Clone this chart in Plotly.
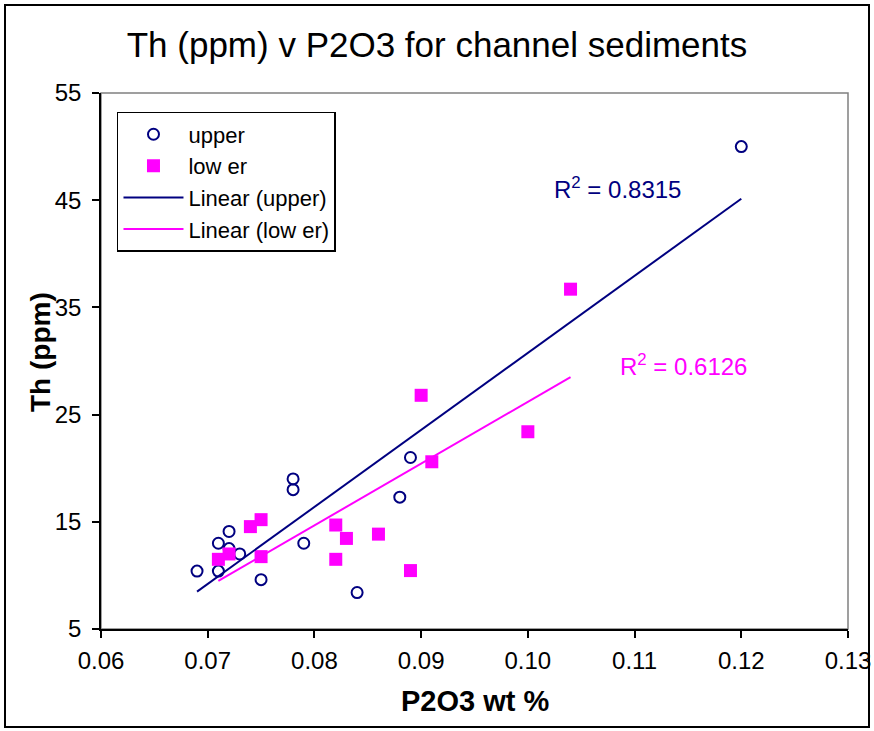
import numpy as np
import plotly.graph_objects as go

# ---- data ----
upper_x = [0.069, 0.071, 0.071, 0.072, 0.072, 0.073, 0.075, 0.078, 0.078, 0.079, 0.084, 0.088, 0.089, 0.120]
upper_y = [10.4, 10.4, 13.0, 14.1, 12.5, 12.0, 9.6, 19.0, 18.0, 13.0, 8.4, 17.3, 21.0, 50.0]

lower_x = [0.071, 0.072, 0.074, 0.075, 0.075, 0.082, 0.083, 0.082, 0.086, 0.089, 0.091, 0.090, 0.100, 0.104]
lower_y = [11.5, 12.0, 14.55, 15.2, 11.75, 14.7, 13.45, 11.5, 13.85, 10.45, 20.6, 26.8, 23.4, 36.7]

r2_upper_text = "R<sup>2</sup> = 0.8315"
r2_lower_text = "R<sup>2</sup> = 0.6126"

x_ticks = [0.06, 0.07, 0.08, 0.09, 0.10, 0.11, 0.12, 0.13]
y_ticks = [5, 15, 25, 35, 45, 55]

NAVY = "#000080"
MAGENTA = "#FF00FF"
FONT = "Liberation Sans, Arial, sans-serif"

def trend(xs, ys):
    a, b = np.polyfit(xs, ys, 1)
    xx = np.array([min(xs), max(xs)])
    return xx, a * xx + b

ux, uy = trend(upper_x, upper_y)
lx, ly = trend(lower_x, lower_y)

fig = go.Figure()
fig.add_trace(go.Scatter(x=upper_x, y=upper_y, mode="markers", name="upper",
                         marker=dict(symbol="circle-open", size=11, color=NAVY,
                                     line=dict(width=2, color=NAVY))))
fig.add_trace(go.Scatter(x=lower_x, y=lower_y, mode="markers", name="low er",
                         marker=dict(symbol="square", size=13, color=MAGENTA)))
fig.add_trace(go.Scatter(x=ux, y=uy, mode="lines", name="Linear (upper)",
                         line=dict(color=NAVY, width=2)))
fig.add_trace(go.Scatter(x=lx, y=ly, mode="lines", name="Linear (low er)",
                         line=dict(color=MAGENTA, width=2)))

fig.update_layout(
    width=874, height=731,
    margin=dict(l=101, r=26, t=93, b=102, autoexpand=False),
    paper_bgcolor="white", plot_bgcolor="white",
    font=dict(family=FONT, color="black", size=24),
    title=dict(text="Th (ppm) v P2O3 for channel sediments", x=0.5, xref="container",
               xanchor="center", y=1 - 45 / 731, yanchor="middle",
               font=dict(size=35, family=FONT, color="black")),
    showlegend=True,
    legend=dict(x=0.0214, y=0.9646, xanchor="left", yanchor="top",
                bordercolor="black", borderwidth=1.5, bgcolor="white",
                font=dict(size=22, family=FONT, color="black"),
                tracegroupgap=0, itemwidth=60),
    xaxis=dict(range=[0.06, 0.13], tickvals=x_ticks, tickformat=".2f",
               automargin=False,
               showgrid=False, zeroline=False, showline=True, linecolor="black",
               linewidth=1.5, ticks="outside", ticklen=7, tickcolor="black",
               tickwidth=1.5, ticklabelstandoff=2,
               tickfont=dict(size=24, family=FONT, color="black")),
    yaxis=dict(range=[5, 55], tickvals=y_ticks, automargin=False,
               showgrid=False, zeroline=False, showline=True, linecolor="black",
               linewidth=1.5, ticks="outside", ticklen=7, tickcolor="black",
               tickwidth=1.5, ticklabelstandoff=6,
               tickfont=dict(size=24, family=FONT, color="black")),
)

# plot-area border (gray) and outer chart frame
fig.add_shape(type="rect", xref="paper", yref="paper", x0=0, y0=0, x1=1, y1=1,
              line=dict(color="#808080", width=1.5), layer="below")
fig.add_shape(type="rect", xref="paper", yref="paper",
              x0=(5 - 101) / 747, x1=(869 - 101) / 747,
              y0=(629 - 727) / 536, y1=(629 - 5) / 536,
              line=dict(color="black", width=2))

# axis titles
fig.add_annotation(text="<b>P2O3 wt %</b>", xref="paper", yref="paper",
                   x=0.5, y=(629 - 701) / 536, xanchor="center", yanchor="middle",
                   showarrow=False, font=dict(size=29, family=FONT, color="black"))
fig.add_annotation(text="<b>Th (ppm)</b>", xref="paper", yref="paper",
                   x=(40 - 101) / 747, y=(629 - 352) / 536, xanchor="center",
                   yanchor="middle", textangle=-90, showarrow=False,
                   font=dict(size=28, family=FONT, color="black"))

# R^2 labels
fig.add_annotation(text=r2_upper_text, x=0.1023, y=46.1, xanchor="left", yanchor="middle",
                   showarrow=False, font=dict(size=24, family=FONT, color=NAVY))
fig.add_annotation(text=r2_lower_text, x=0.1084, y=29.6, xanchor="left", yanchor="middle",
                   showarrow=False, font=dict(size=24, family=FONT, color=MAGENTA))

fig.write_html("out.html")
